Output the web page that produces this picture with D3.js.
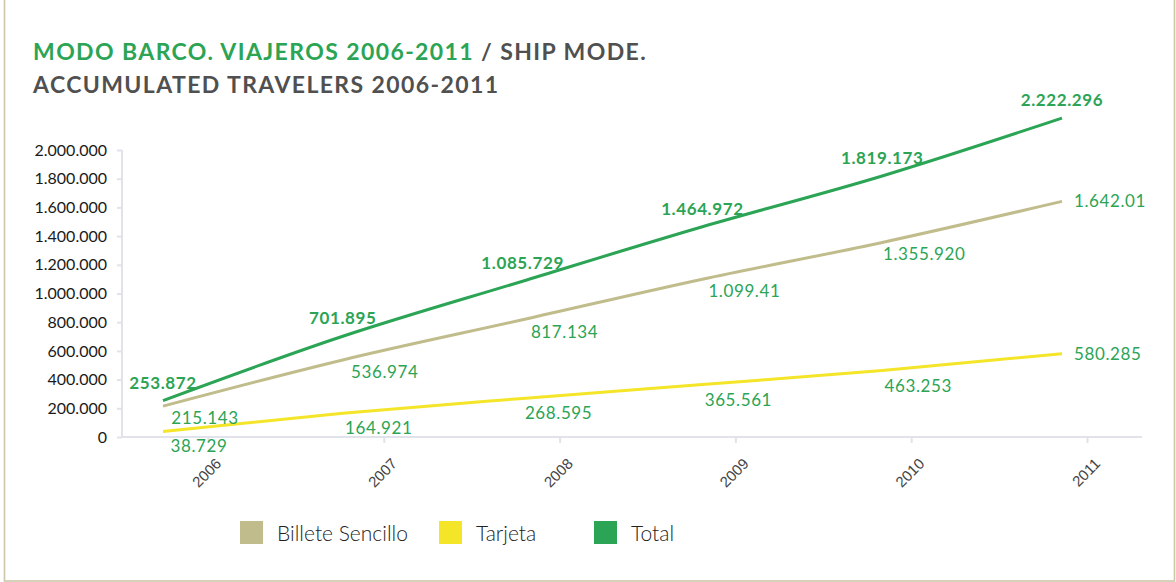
<!DOCTYPE html>
<html>
<head>
<meta charset="utf-8">
<script src="https://cdn.jsdelivr.net/npm/d3@7"></script>
<style>
  html, body { margin: 0; padding: 0; background: #fff; }
  svg { display: block; font-family: Lato, "Open Sans", sans-serif; }
</style>
</head>
<body>
<svg id="chart" width="1176" height="582"></svg>
<script>
// Years on the x axis
const years = ["2006", "2007", "2008", "2009", "2010", "2011"];

// Accumulated travellers per ticket type
const billeteSencillo = [215143, 536974, 817134, 1099410, 1355920, 1642010];
const tarjeta = [38729, 164921, 268595, 365561, 463253, 580285];
const total = [253872, 701895, 1085729, 1464972, 1819173, 2222296];

// Printed value labels (two of them are shown shortened)
const billeteLabels = ["215.143", "536.974", "817.134", "1.099.41", "1.355.920", "1.642.01"];

// Y axis ticks
const yTicks = [0, 200000, 400000, 600000, 800000, 1000000, 1200000, 1400000, 1600000, 1800000, 2000000];

const seriesNames = ["Billete Sencillo", "Tarjeta", "Total"];
const seriesColors = ["#c1bc8b", "#f4e528", "#2ba455"];

const svg = d3.select("#chart");
const green = "#2ba455";
const grey = "#505050";
const fmt = d3.formatLocale({ decimal: ",", thousands: ".", grouping: [3], currency: ["", "€"] }).format(",d");

// frame
svg.append("rect")
  .attr("x", 4.5).attr("y", -1).attr("width", 1170).attr("height", 582)
  .attr("fill", "none").attr("stroke", "#cbc7a8").attr("stroke-width", 1.6);

// title
const t1 = svg.append("text").attr("x", 33).attr("y", 60)
  .attr("font-size", 23).attr("font-weight", 700).attr("letter-spacing", 1.4);
t1.append("tspan").attr("fill", green).text("MODO BARCO. VIAJEROS 2006-2011");
t1.append("tspan").attr("fill", grey).text(" / SHIP MODE.");
svg.append("text").attr("x", 33).attr("y", 93)
  .attr("font-size", 23).attr("font-weight", 700).attr("letter-spacing", 1.4)
  .attr("fill", grey).text("ACCUMULATED TRAVELERS 2006-2011");

// scales
const y = d3.scaleLinear().domain([0, 2000000]).range([437, 150]);
const xAxisScale = d3.scalePoint().domain(years).range([208, 1087]);
const xMark = d3.scalePoint().domain(years).range([163, 1062]);

// y axis
const yAxis = svg.append("g").attr("transform", "translate(122,0)")
  .call(d3.axisLeft(y).tickValues(yTicks).tickFormat(d => fmt(d)).tickSize(5).tickPadding(10));
yAxis.select(".domain").attr("stroke", "#e2e2ea").attr("stroke-width", 2)
  .attr("d", `M0,${y(0)}V150`);
yAxis.selectAll(".tick line").attr("stroke", "#e2e2ea").attr("stroke-width", 2);
yAxis.selectAll(".tick text").attr("font-size", 16).attr("fill", "#1a1a1a")
  .attr("font-family", "Lato, sans-serif");

// x axis
const xAxis = svg.append("g").attr("transform", `translate(0,${y(0)})`)
  .call(d3.axisBottom(xAxisScale).tickSize(6).tickPadding(4));
xAxis.select(".domain").attr("stroke", "#e2e2ea").attr("stroke-width", 2)
  .attr("d", "M122,0H1142");
xAxis.selectAll(".tick line").attr("stroke", "#e2e2ea").attr("stroke-width", 2);
xAxis.selectAll(".tick text")
  .attr("font-size", 15).attr("fill", "#444").attr("font-weight", 300)
  .attr("text-anchor", "end")
  .attr("transform", "translate(10,24) rotate(-45)")
  .attr("dy", "0.35em").attr("y", 0);

// lines
const lineGen = d3.line().x((d, i) => xMark(years[i])).y(d => y(d)).curve(d3.curveMonotoneX);
const seriesData = [billeteSencillo, tarjeta, total];
seriesData.forEach((vals, s) => {
  svg.append("path").datum(vals)
    .attr("d", lineGen)
    .attr("fill", "none")
    .attr("stroke", seriesColors[s])
    .attr("stroke-width", 3);
});

// value labels
const last = years.length - 1;
const labelSize = 17;
// Total: bold, above each point
svg.append("g").selectAll("text").data(total).join("text")
  .attr("x", (d, i) => xMark(years[i]))
  .attr("y", d => y(d) - 12)
  .attr("text-anchor", "middle")
  .attr("font-size", labelSize).attr("font-weight", 700).attr("fill", green)
  .attr("letter-spacing", 0.6)
  .text(d => fmt(d));

// Billete Sencillo: below-right, last one to the right of the end point
svg.append("g").selectAll("text").data(billeteSencillo).join("text")
  .attr("x", (d, i) => i === last ? xMark(years[i]) + 12 : xMark(years[i]) + 42)
  .attr("y", (d, i) => i === last ? y(d) + 6 : y(d) + 18)
  .attr("text-anchor", (d, i) => i === last ? "start" : "middle")
  .attr("font-size", labelSize).attr("fill", green).attr("letter-spacing", 0.6)
  .text((d, i) => billeteLabels[i]);

// Tarjeta: below-right, last one to the right of the end point
svg.append("g").selectAll("text").data(tarjeta).join("text")
  .attr("x", (d, i) => i === last ? xMark(years[i]) + 12 : xMark(years[i]) + 36)
  .attr("y", (d, i) => i === last ? y(d) + 6 : y(d) + 21)
  .attr("text-anchor", (d, i) => i === last ? "start" : "middle")
  .attr("font-size", labelSize).attr("fill", green).attr("letter-spacing", 0.6)
  .text(d => fmt(d));

// legend
const legendX = [240, 439, 594];
const legend = svg.append("g").selectAll("g").data(seriesNames).join("g")
  .attr("transform", (d, i) => `translate(${legendX[i]},521)`);
legend.append("rect").attr("width", 23).attr("height", 23)
  .attr("fill", (d, i) => seriesColors[i]);
legend.append("text").attr("x", 37).attr("y", 20)
  .attr("font-size", 21).attr("font-weight", 300).attr("fill", "#222")
  .text(d => d);
</script>
</body>
</html>
